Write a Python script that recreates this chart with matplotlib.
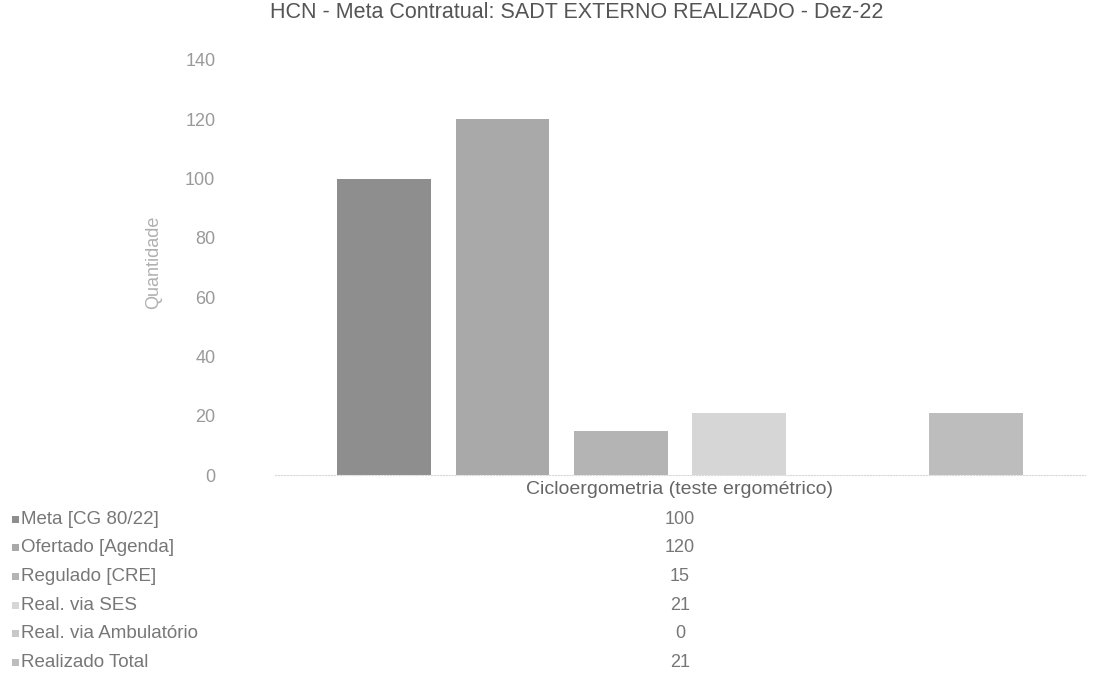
import numpy as np
import matplotlib.pyplot as plt

plt.rcParams['font.family'] = ['Liberation Sans', 'DejaVu Sans']

# data
category = 'Cicloergometria (teste ergométrico)'
series = ['Meta [CG 80/22]', 'Ofertado [Agenda]', 'Regulado [CRE]',
          'Real. via SES', 'Real. via Ambulatório', 'Realizado Total']
values = [100, 120, 15, 21, 0, 21]
colors = ['#8e8e8e', '#a9a9a9', '#b4b4b4', '#d6d6d6', '#c8c8c8', '#bdbdbd']
yticks = [0, 20, 40, 60, 80, 100, 120, 140]

W, H = 1118, 690
fig = plt.figure(figsize=(W / 100, H / 100), dpi=100)
ax = fig.add_axes([275 / W, 1 - 475 / H, 810 / W, 415 / H])

n = len(series)
offsets = np.arange(n) - (n - 1) / 2
ax.bar(offsets, values, width=0.79, color=colors)

ax.set_xlim(-n * 1.14 / 2, n * 1.14 / 2)
ax.set_ylim(0, 140)
ax.set_yticks(yticks)
ax.set_yticklabels([str(t) for t in yticks], color='#9a9a9a', fontsize=13)
ax.tick_params(axis='y', length=0, pad=43)
ax.set_xticks([])
for s in ['top', 'right', 'left']:
    ax.spines[s].set_visible(False)
ax.spines['bottom'].set_color('#d8d8d8')
ax.spines['bottom'].set_linestyle(':')
ax.set_ylabel('Quantidade', color='#b0b0b0', fontsize=13)
ax.yaxis.set_label_coords(-0.1395, 0.513)

fig.text(577 / W, 1 - 12 / H, 'HCN - Meta Contratual: SADT EXTERNO REALIZADO - Dez-22',
         ha='center', va='center', fontsize=15.5, color='#555555')
fig.text(680 / W, 1 - 490 / H, category, ha='center', va='center',
         fontsize=14, color='#666666')

# data table under the chart
y0, dy = 519, 28.7
for i, (name, val, c) in enumerate(zip(series, values, colors)):
    yy = 1 - (y0 + i * dy) / H
    fig.add_artist(plt.Rectangle((12 / W, yy - 3.5 / H), 7 / W, 7 / H,
                                 transform=fig.transFigure, color=c, lw=0))
    fig.text(21 / W, yy, name, ha='left', va='center', fontsize=13.5, color='#777777')
    fig.text(680 / W, yy, str(val), ha='center', va='center', fontsize=13, color='#777777')

fig.savefig('out.png', dpi=100)
